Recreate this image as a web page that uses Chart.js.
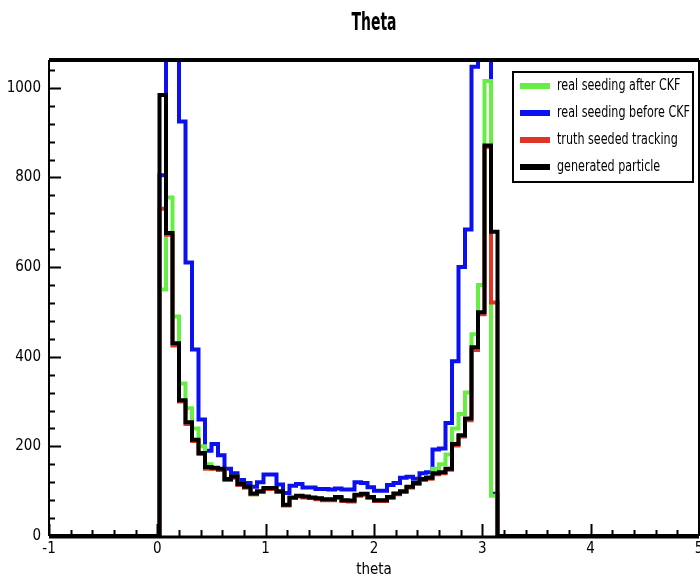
<!DOCTYPE html>
<html>
<head>
<meta charset="utf-8">
<script src="https://cdn.jsdelivr.net/npm/chart.js@4.4.1/dist/chart.umd.min.js"></script>
<style>
  html, body { margin: 0; background: #fff; }
  #wrap { width: 700px; height: 579px; }
</style>
</head>
<body>
<div id="wrap"><canvas id="theta"></canvas></div>
<script>
// histogram: 100 bins over [-1, 5], only bins from 0.02 to 3.14 are filled
const xMin = -1, xMax = 5;
const binLow = 0.02, binWidth = 0.06;
const xTicks = [-1, 0, 1, 2, 3, 4, 5];
const yTicks = [0, 200, 400, 600, 800, 1000];
const yMax = 1062;

const seedAfterCKF = [550, 755, 490, 340, 285, 240, 200, 160, 150, 148, 125, 132, 114, 108, 93, 99, 105, 106, 99, 69,
  85, 89, 87, 85, 83, 81, 81, 86, 79, 78, 91, 93, 86, 79, 79, 86, 94, 99, 109, 117,
  126, 132, 150, 160, 182, 240, 272, 320, 450, 560, 1015, 90];
const seedBeforeCKF = [805, 1300, 1300, 925, 610, 416, 260, 190, 205, 180, 150, 140, 125, 118, 110, 120, 137, 137, 115, 96,
  112, 116, 108, 108, 105, 105, 104, 106, 104, 104, 120, 118, 109, 101, 101, 114, 118, 130, 132, 128,
  140, 142, 193, 195, 252, 390, 600, 684, 1047, 1300, 1300, 94];
const truthSeeded = [730, 672, 425, 300, 250, 212, 183, 150, 150, 147, 125, 130, 114, 108, 93, 98, 105, 105, 98, 68,
  85, 88, 86, 85, 82, 80, 80, 85, 78, 77, 90, 92, 85, 78, 78, 85, 93, 98, 108, 116,
  125, 128, 138, 140, 148, 202, 222, 258, 415, 495, 868, 521];
const generated = [984, 676, 430, 303, 254, 215, 185, 154, 152, 150, 127, 133, 116, 110, 95, 100, 107, 107, 100, 70,
  86, 90, 88, 86, 84, 82, 82, 87, 80, 79, 92, 94, 87, 80, 80, 87, 95, 100, 110, 118,
  127, 130, 140, 142, 150, 205, 225, 262, 421, 499, 871, 679];

const title = "Theta";
const labels = ["real seeding after CKF", "real seeding before CKF", "truth seeded tracking", "generated particle"];
const colors = ["#66ee44", "#0a10f0", "#e03428", "#000000"];

const FONT = "'Liberation Sans Narrow', 'DejaVu Sans Condensed', 'Liberation Sans', sans-serif";

// points at left bin edges, stepped line draws the histogram outline
function steps(vals) {
  const pts = [{ x: xMin, y: 0 }];
  vals.forEach((v, i) => pts.push({ x: binLow + i * binWidth, y: v }));
  pts.push({ x: binLow + vals.length * binWidth, y: 0 });
  pts.push({ x: xMax, y: 0 });
  return pts;
}

function hist(label, vals, color, order) {
  return {
    label: label,
    data: steps(vals),
    borderColor: color,
    backgroundColor: color,
    borderWidth: 4,
    stepped: true,
    pointRadius: 0,
    fill: false,
    borderJoinStyle: "miter",
    borderCapStyle: "butt",
    order: order
  };
}

// text squeezed horizontally to look like the narrow ROOT font
function narrowText(ctx, text, x, y, width, align) {
  const w = ctx.measureText(text).width;
  const k = width / w;
  ctx.save();
  ctx.translate(x, y);
  ctx.scale(k, 1);
  ctx.textAlign = align;
  ctx.fillText(text, 0, 0);
  ctx.restore();
}

// ROOT style frame, inward ticks, title and the boxed legend
const rootStyle = {
  id: "rootStyle",
  afterDatasetsDraw(chart) {
    const { ctx, chartArea: a, scales: { x, y } } = chart;
    ctx.save();
    ctx.strokeStyle = "#000";

    // x ticks (major 1, minor 0.2)
    ctx.lineWidth = 2;
    ctx.beginPath();
    for (let i = 0; i <= 30; i++) {
      const v = xMin + i * 0.2;
      const px = Math.round(x.getPixelForValue(v)) + 0.5;
      const len = i % 5 === 0 ? 12 : 6;
      ctx.moveTo(px, a.bottom);
      ctx.lineTo(px, a.bottom - len);
    }
    // y ticks (major 200, minor 40)
    for (let v = 0; v <= yMax; v += 40) {
      const py = Math.round(y.getPixelForValue(v)) + 0.5;
      const len = v % 200 === 0 ? 12 : 6;
      ctx.moveTo(a.left, py);
      ctx.lineTo(a.left + len, py);
    }
    ctx.stroke();

    // frame
    ctx.lineWidth = 4;
    ctx.beginPath();
    ctx.moveTo(a.left, a.top);
    ctx.lineTo(a.right, a.top);
    ctx.stroke();
    ctx.lineWidth = 2;
    ctx.beginPath();
    ctx.moveTo(a.right, a.top);
    ctx.lineTo(a.right, a.bottom);
    ctx.moveTo(a.left, a.top);
    ctx.lineTo(a.left, a.bottom);
    ctx.stroke();
    ctx.lineWidth = 3;
    ctx.beginPath();
    ctx.moveTo(a.left, a.bottom + 1);
    ctx.lineTo(a.right, a.bottom + 1);
    ctx.stroke();

    // title
    ctx.fillStyle = "#000";
    ctx.textBaseline = "middle";
    ctx.font = "bold 25px " + FONT;
    narrowText(ctx, title, (a.left + a.right) / 2, 23, 45, "center");

    // legend box
    const lx = 513, ly = 72, lw = 180, lh = 110;
    ctx.fillStyle = "#fff";
    ctx.fillRect(lx, ly, lw, lh);
    ctx.lineWidth = 2;
    ctx.strokeRect(lx, ly, lw, lh);
    ctx.font = "16px " + FONT;
    const k = 133 / ctx.measureText(labels[1]).width;
    labels.forEach((t, i) => {
      const ry = ly + 14 + i * 27;
      ctx.strokeStyle = colors[i];
      ctx.lineWidth = 6;
      ctx.beginPath();
      ctx.moveTo(520, ry);
      ctx.lineTo(550, ry);
      ctx.stroke();
      ctx.fillStyle = "#000";
      narrowText(ctx, t, 557, ry, ctx.measureText(t).width * k, "left");
    });
    ctx.restore();
  }
};

new Chart(document.getElementById("theta"), {
  type: "line",
  data: {
    datasets: [
      hist(labels[3], generated, colors[3], 0),
      hist(labels[2], truthSeeded, colors[2], 1),
      hist(labels[0], seedAfterCKF, colors[0], 2),
      hist(labels[1], seedBeforeCKF, colors[1], 3)
    ]
  },
  options: {
    responsive: true,
    maintainAspectRatio: false,
    animation: false,
    layout: { padding: { top: 60, right: 1, left: 0, bottom: 0 } },
    plugins: {
      legend: { display: false },
      tooltip: { enabled: false },
      title: { display: false }
    },
    scales: {
      x: {
        type: "linear",
        min: xMin,
        max: xMax,
        afterBuildTicks: s => { s.ticks = xTicks.map(v => ({ value: v })); },
        afterFit: s => { s.height = 43; s.paddingLeft = 0; s.paddingRight = 0; },
        grid: { display: false, drawTicks: false },
        border: { display: false },
        ticks: { color: "#000", font: { family: FONT, size: 15 }, padding: 4, maxRotation: 0, callback: v => String(v) },
        title: { display: true, text: "theta", color: "#000", font: { family: FONT, size: 15 }, padding: { top: 0, bottom: 0 } }
      },
      y: {
        min: 0,
        max: yMax,
        afterBuildTicks: s => { s.ticks = yTicks.map(v => ({ value: v })); },
        afterFit: s => { s.width = 49; s.paddingTop = 0; s.paddingBottom = 0; },
        grid: { display: false, drawTicks: false },
        border: { display: false },
        ticks: { color: "#000", font: { family: FONT, size: 15 }, padding: 8, callback: v => String(v) }
      }
    }
  },
  plugins: [rootStyle]
});
</script>
</body>
</html>
